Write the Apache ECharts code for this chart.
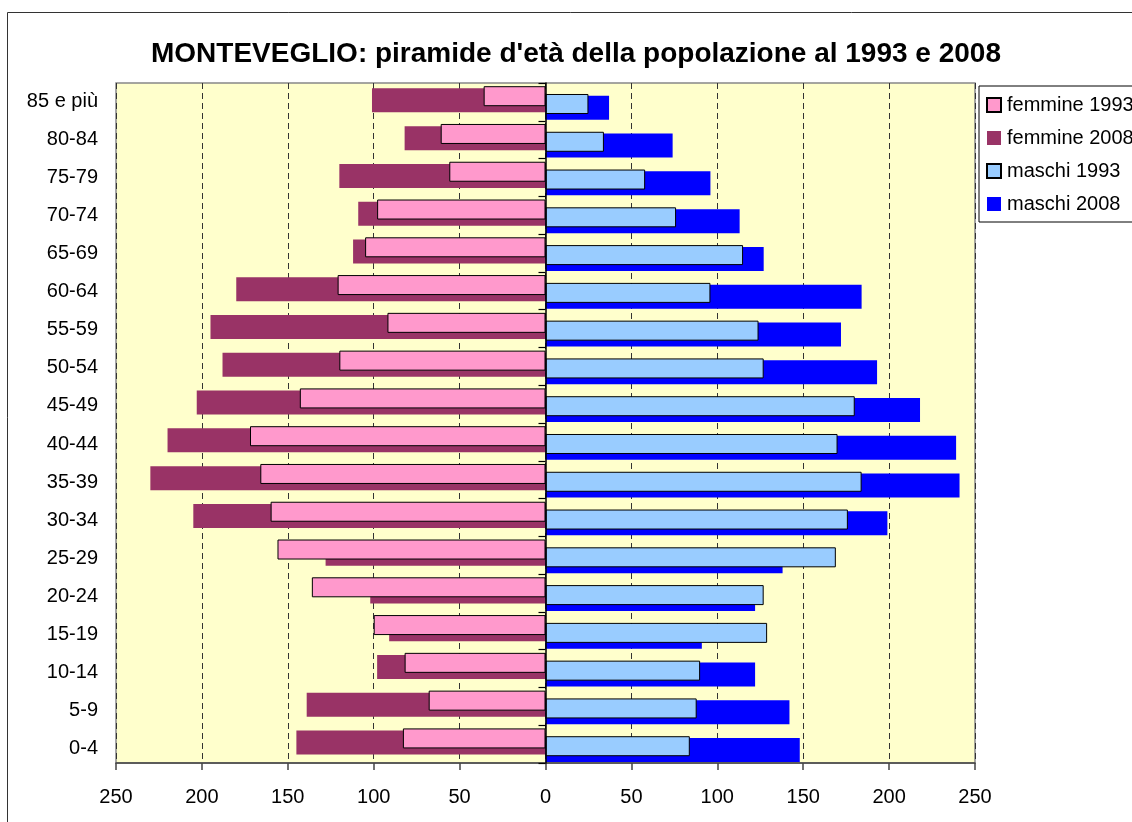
<!DOCTYPE html>
<html>
<head>
<meta charset="utf-8">
<script src="https://cdn.jsdelivr.net/npm/echarts@6/dist/echarts.min.js"></script>
<style>
html,body{margin:0;padding:0;background:#fff;}
#chart{width:1132px;height:822px;}
</style>
</head>
<body>
<div id="chart"></div>
<script>
const categories = ['0-4','5-9','10-14','15-19','20-24','25-29','30-34','35-39','40-44','45-49','50-54','55-59','60-64','65-69','70-74','75-79','80-84','85 e più'];
const femmine1993 = [83, 68, 82, 100, 136, 156, 160, 166, 172, 143, 120, 92, 121, 105, 98, 56, 61, 36];
const femmine2008 = [145, 139, 98, 91, 102, 128, 205, 230, 220, 203, 188, 195, 180, 112, 109, 120, 82, 101];
const maschi1993 = [84, 88, 90, 129, 127, 169, 176, 184, 170, 180, 127, 124, 96, 115, 76, 58, 34, 25];
const maschi2008 = [148, 142, 122, 91, 122, 138, 199, 241, 239, 218, 193, 172, 184, 127, 113, 96, 74, 37];
const xTicks = { min: -250, max: 250, interval: 50 };

const FONT = 'Liberation Sans, Arial, sans-serif';
const chart = echarts.init(document.getElementById('chart'), null, { renderer: 'canvas' });

const gridBase = { left: 116, right: 157, top: 83, bottom: 59 };
const g2008 = { left: 116, right: 157, top: 85.2, bottom: 56.8 };
const g1993 = { left: 116, right: 157, top: 81.2, bottom: 60.8 };
const gLabels = { left: 116, right: 157, top: 82.5, bottom: 54.5 };

const hiddenX = (gi) => ({ type: 'value', gridIndex: gi, min: xTicks.min, max: xTicks.max, interval: xTicks.interval, show: false, splitLine: { show: false } });
const hiddenY = (gi) => ({ type: 'category', gridIndex: gi, data: categories, show: false });

const option = {
  backgroundColor: '#ffffff',
  animation: false,
  title: {
    text: "MONTEVEGLIO: piramide d'età della popolazione al 1993 e 2008",
    left: 571, top: 35, textAlign: 'center',
    textStyle: { fontFamily: FONT, fontSize: 28, fontWeight: 'bold', color: '#000' }
  },
  legend: {
    orient: 'vertical',
    left: 979, top: 86,
    padding: [9, 60, 8, 7],
    itemWidth: 14, itemHeight: 14, itemGap: 13,
    borderColor: '#000', borderWidth: 1,
    backgroundColor: '#fff',
    icon: 'rect',
    textStyle: { fontFamily: FONT, fontSize: 20, color: '#000', padding: [0, 0, 0, 1] },
    data: ['femmine 1993', 'femmine 2008', 'maschi 1993', 'maschi 2008']
  },
  graphic: [{
    type: 'rect', silent: true, z: -10,
    shape: { x: 7.5, y: 12.5, width: 1200, height: 900 },
    style: { fill: null, stroke: '#333', lineWidth: 1 }
  }],
  grid: [
    Object.assign({ show: true, backgroundColor: '#FFFFCC', borderColor: '#888', borderWidth: 1.5 }, gridBase),
    g2008, g1993, gLabels
  ],
  xAxis: [
    {
      type: 'value', gridIndex: 0, min: xTicks.min, max: xTicks.max, interval: xTicks.interval,
      axisLine: { show: true, onZero: false, lineStyle: { color: '#444', width: 1.5 } },
      axisTick: { show: true, length: 7, lineStyle: { color: '#444', width: 1.5 } },
      axisLabel: { fontFamily: FONT, fontSize: 20, color: '#000', margin: 24, formatter: v => Math.abs(v) },
      splitLine: { show: true, lineStyle: { color: '#333', type: [6, 4], width: 1 } }
    },
    hiddenX(1), hiddenX(2), hiddenX(3)
  ],
  yAxis: [
    {
      type: 'category', gridIndex: 3, data: categories, position: 'left',
      axisLine: { show: false, onZero: false },
      axisTick: { show: false },
      splitLine: { show: false },
      axisLabel: { fontFamily: FONT, fontSize: 20, color: '#000', margin: 18 }
    },
    {
      type: 'category', gridIndex: 0, data: categories, position: 'left',
      axisLine: { show: true, onZero: true, lineStyle: { color: '#000', width: 1.5 } },
      axisTick: { show: true, length: 7, lineStyle: { color: '#000', width: 1.2 } },
      axisLabel: { show: false },
      z: 5
    },
    hiddenY(1), hiddenY(2)
  ],
  series: [
    {
      name: 'femmine 2008', type: 'bar', xAxisIndex: 1, yAxisIndex: 2,
      data: femmine2008.map(v => -v), barWidth: 24, barGap: '-69%', z: 2,
      itemStyle: { color: '#993366' }
    },
    {
      name: 'maschi 2008', type: 'bar', xAxisIndex: 1, yAxisIndex: 2,
      data: maschi2008, barWidth: 24, barGap: '-69%', z: 2,
      itemStyle: { color: '#0000FF' }
    },
    {
      name: 'femmine 1993', type: 'bar', xAxisIndex: 2, yAxisIndex: 3,
      data: femmine1993.map(v => -v), barWidth: 20, barGap: '-61%', z: 3,
      itemStyle: { color: '#FF99CC', borderColor: '#000', borderWidth: 1 }
    },
    {
      name: 'maschi 1993', type: 'bar', xAxisIndex: 2, yAxisIndex: 3,
      data: maschi1993, barWidth: 20, barGap: '-61%', z: 3,
      itemStyle: { color: '#99CCFF', borderColor: '#000', borderWidth: 1 }
    }
  ]
};
chart.setOption(option);
</script>
</body>
</html>
